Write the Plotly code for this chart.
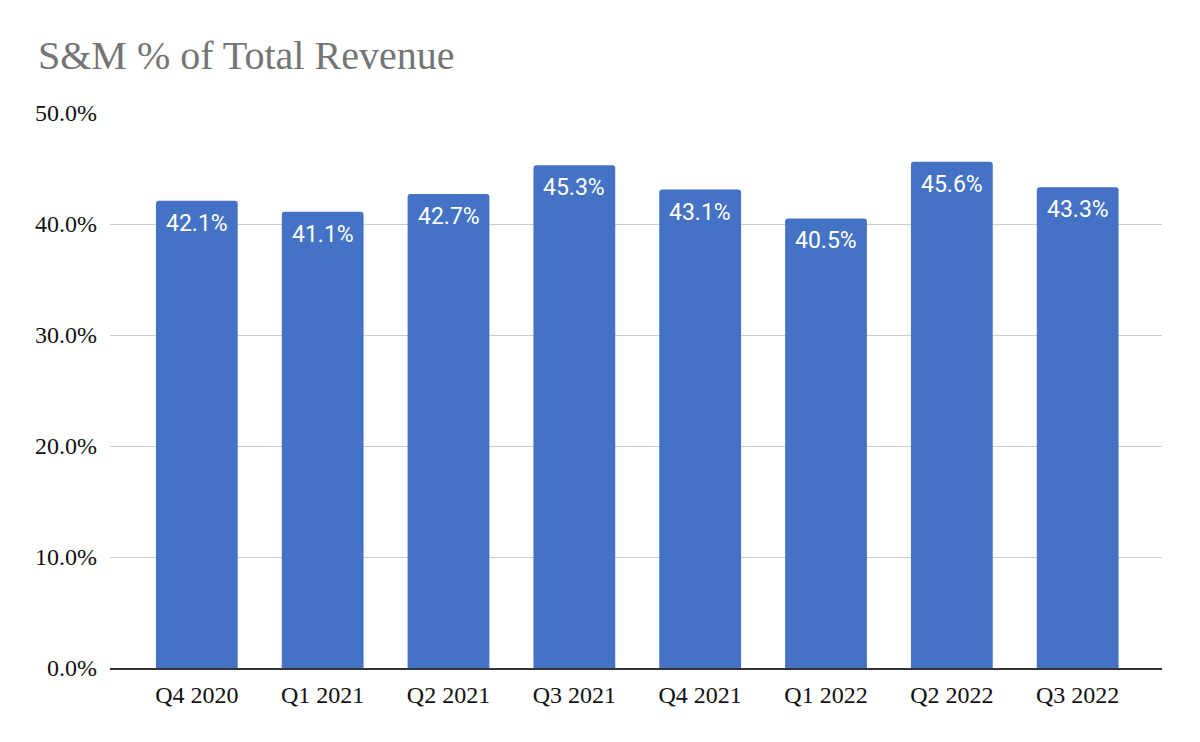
import plotly.graph_objects as go

quarters = ["Q4 2020", "Q1 2021", "Q2 2021", "Q3 2021", "Q4 2021", "Q1 2022", "Q2 2022", "Q3 2022"]
sm_pct = [42.1, 41.1, 42.7, 45.3, 43.1, 40.5, 45.6, 43.3]
y_ticks = [0, 10, 20, 30, 40, 50]
y_tick_labels = ["0.0%", "10.0%", "20.0%", "30.0%", "40.0%", "50.0%"]

fig = go.Figure()
fig.add_trace(go.Bar(
    x=quarters, y=sm_pct,
    marker=dict(color="#4472C4", line=dict(width=0)),
    hoverinfo="skip",
))

for q, v in zip(quarters, sm_pct):
    fig.add_annotation(
        x=q, y=v, xref="x", yref="y",
        text=f"{v:.1f}%", showarrow=False,
        yanchor="top", yshift=-7,
        font=dict(family="Roboto", size=23, color="white"),
    )

W, H = 1192, 734
fig.update_layout(
    width=W, height=H,
    margin=dict(l=102, r=38, t=105, b=74),
    paper_bgcolor="white", plot_bgcolor="white",
    bargap=0.35,
    barcornerradius=3,
    showlegend=False,
    title=dict(
        text="S&M % of Total Revenue",
        font=dict(family="Liberation Serif", size=40, color="#757575"),
        x=30/W, xref="container", xanchor="left",
        y=1-47/H, yref="container", yanchor="middle",
    ),
    xaxis=dict(
        range=[-0.69, 7.67],
        showline=True, linecolor="#333333", linewidth=2,
        showgrid=False, ticks="",
        tickfont=dict(family="Liberation Serif", size=24, color="#111111"),
        ticklabelstandoff=4,
    ),
    yaxis=dict(
        range=[0, 50], tickmode="array", tickvals=y_ticks, ticktext=y_tick_labels,
        showgrid=True, gridcolor="#cccccc", gridwidth=1,
        zeroline=False, showline=False, ticks="",
        tickfont=dict(family="Liberation Serif", size=24, color="#111111"),
        ticklabelstandoff=12,
    ),
)

fig.write_html("out.html")
